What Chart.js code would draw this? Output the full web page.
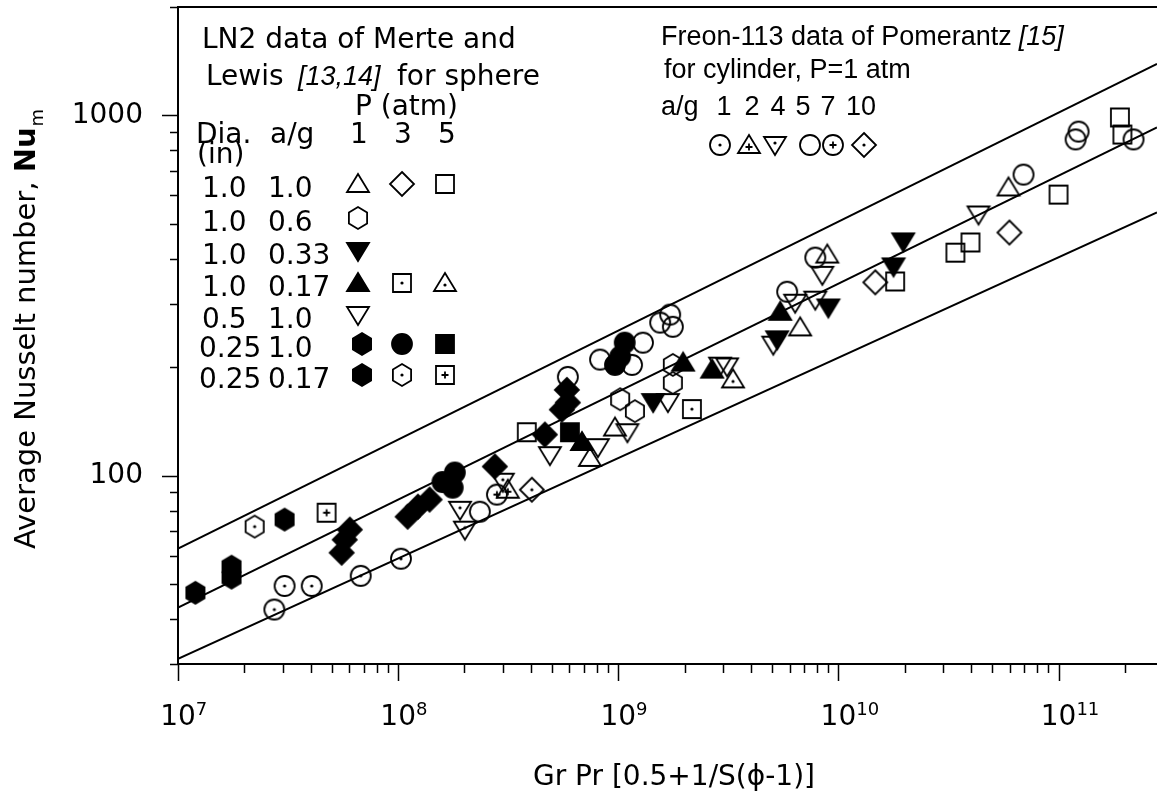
<!DOCTYPE html>
<html>
<head>
<meta charset="utf-8">
<script src="https://cdn.jsdelivr.net/npm/chart.js@4.4.1/dist/chart.umd.min.js"></script>
<style>
  html, body { margin: 0; padding: 0; background: #fff; }
  #wrap { width: 1157px; height: 794px; position: relative; }
</style>
</head>
<body>
<div id="wrap"><canvas id="nuChart"></canvas></div>
<script>
// axis ranges and labelled ticks
const xMin = 1e7, xMax = 2.8e11;
const yMin = 30, yMax = 2000;
const xTickLabels = [1e7, 1e8, 1e9, 1e10, 1e11];
const yTickLabels = [100, 1000];

// correlation lines, Nu at the left and right ends of the x range
const lineX = [1e7, 2.8e11];
const upperLineY = [62.7, 1390];
const middleLineY = [43.0, 926];
const lowerLineY = [31.0, 538];

// LN2 data, sphere (Merte and Lewis)
const triOpenX = [7.43e8, 9.66e8, 6.7e9, 8.9e9, 5.92e10];          // 1.0 in, a/g 1.0, P=1
const triOpenY = [112, 136, 258, 411, 631];
const diamondOpenX = [1.47e10, 5.98e10];                           // 1.0 in, a/g 1.0, P=3
const diamondOpenY = [344, 473];
const squareOpenX = [3.84e8, 1.81e10, 3.4e10, 3.98e10, 1.0e11, 1.9e11, 1.95e11]; // P=5
const squareOpenY = [132, 346, 416, 444, 603, 987, 885];
const hexOpenX = [1.02e9, 1.19e9, 1.77e9, 1.77e9];                 // a/g 0.6
const hexOpenY = [163, 151, 203, 181];
const triDownFilledX = [1.44e9, 5.27e9, 9.0e9, 1.78e10, 1.97e10];  // a/g 0.33
const triDownFilledY = [160, 239, 293, 381, 447];
const triFilledX = [6.84e8, 1.97e9, 2.67e9, 5.44e9];               // a/g 0.17, P=1
const triFilledY = [124, 206, 197, 285];
const squareDotX = [2.16e9];                                       // a/g 0.17, P=3
const squareDotY = [153];
const triDotX = [3.32e9];                                          // a/g 0.17, P=5
const triDotY = [185];
const triDownOpenX = [4.89e8, 8.08e8, 1.1e9, 1.68e9, 2.9e9, 3.12e9, 5.06e9, 6.36e9, 7.85e9, 8.45e9, 4.33e10]; // 0.5 in
const triDownOpenY = [114, 120, 132, 160, 202, 201, 231, 302, 308, 361, 531];
const hexFilledX = [1.2e7, 1.75e7, 1.75e7, 3.05e7];                // 0.25 in, P=1
const hexFilledY = [47.3, 55.9, 52.1, 75.5];
const circleFilledX = [1.59e8, 1.81e8, 1.77e8, 9.66e8, 1.02e9, 1.07e9]; // 0.25 in, P=3
const circleFilledY = [96, 102, 92.6, 203, 214, 234];
const squareFilledX = [6.03e8];                                    // 0.25 in, P=5
const squareFilledY = [132];
const hexDotX = [2.23e7];                                          // 0.25 in, a/g 0.17, P=3
const hexDotY = [72.2];
const squarePlusX = [4.73e7];                                      // 0.25 in, a/g 0.17, P=5
const squarePlusY = [78.9];
const diamondFilledX = [5.54e7, 5.72e7, 6.03e7, 1.105e8, 1.23e8, 1.39e8, 2.75e8, 4.64e8, 5.54e8, 5.9e8, 5.84e8];
const diamondFilledY = [61.1, 66.4, 70.8, 76.9, 82, 85.8, 106, 130, 152.5, 159.5, 173];

// Freon-113 data, cylinder (Pomerantz)
const circleDotX = [2.74e7, 3.05e7, 4.05e7, 6.76e7, 1.03e8];       // a/g 1
const circleDotY = [42.5, 49.4, 49.4, 52.7, 58.8];
const triPlusX = [3.15e8];                                         // a/g 2
const triPlusY = [91.4];
const triDownDotX = [1.91e8, 2.01e8, 2.99e8];                      // a/g 4
const triDownDotY = [80.4, 70.8, 96.2];
const circleOpenX = [2.35e8, 5.9e8, 8.26e8, 1.155e9, 1.295e9, 1.55e9, 1.72e9, 1.77e9, 5.85e9, 7.85e9, 6.93e10, 1.195e11, 1.233e11, 2.19e11]; // a/g 5
const circleOpenY = [79.4, 188, 210, 203, 234, 266, 280, 259, 324, 403, 685, 858, 902, 858];
const circlePlusX = [2.81e8];                                      // a/g 7
const circlePlusY = [88.6];
const diamondDotX = [4.05e8];                                      // a/g 10
const diamondDotY = [91.4];

const FONT = '"DejaVu Sans"';

function makeMarker(shape, filled, inner) {
    const c = document.createElement('canvas');
    c.width = 32; c.height = 32;
    const g = c.getContext('2d');
    g.translate(16, 16);
    g.lineWidth = 1.8;
    g.strokeStyle = '#000';
    g.fillStyle = '#000';
    g.beginPath();
    if (shape === 'circle') {
        g.arc(0, 0, 10, 0, Math.PI * 2);
    } else if (shape === 'square') {
        g.rect(-9, -9, 18, 18);
    } else if (shape === 'diamond') {
        g.moveTo(0, -12); g.lineTo(12, 0); g.lineTo(0, 12); g.lineTo(-12, 0); g.closePath();
    } else if (shape === 'triUp') {
        g.moveTo(0, -10); g.lineTo(11, 8); g.lineTo(-11, 8); g.closePath();
    } else if (shape === 'triDown') {
        g.moveTo(0, 10); g.lineTo(11, -8); g.lineTo(-11, -8); g.closePath();
    } else if (shape === 'hex') {
        for (let i = 0; i < 6; i++) {
            const a = -Math.PI / 2 + i * Math.PI / 3;
            const px = 10.5 * Math.cos(a), py = 11 * Math.sin(a);
            if (i === 0) g.moveTo(px, py); else g.lineTo(px, py);
        }
        g.closePath();
    }
    if (filled) g.fill();
    g.stroke();
    const cy = shape === 'triUp' ? 2 : shape === 'triDown' ? -2 : 0;
    if (inner === 'dot') {
        g.beginPath(); g.arc(0, cy, 1.6, 0, Math.PI * 2); g.fill();
    } else if (inner === 'plus') {
        g.beginPath();
        g.moveTo(-3.5, cy); g.lineTo(3.5, cy);
        g.moveTo(0, cy - 3.5); g.lineTo(0, cy + 3.5);
        g.lineWidth = 1.8; g.stroke();
    }
    return c;
}

const mk = {
    triOpen: makeMarker('triUp', false),
    diamondOpen: makeMarker('diamond', false),
    squareOpen: makeMarker('square', false),
    hexOpen: makeMarker('hex', false),
    triDownFilled: makeMarker('triDown', true),
    triFilled: makeMarker('triUp', true),
    squareDot: makeMarker('square', false, 'dot'),
    triDot: makeMarker('triUp', false, 'dot'),
    triDownOpen: makeMarker('triDown', false),
    hexFilled: makeMarker('hex', true),
    circleFilled: makeMarker('circle', true),
    squareFilled: makeMarker('square', true),
    hexDot: makeMarker('hex', false, 'dot'),
    squarePlus: makeMarker('square', false, 'plus'),
    diamondFilled: makeMarker('diamond', true),
    circleDot: makeMarker('circle', false, 'dot'),
    triPlus: makeMarker('triUp', false, 'plus'),
    triDownDot: makeMarker('triDown', false, 'dot'),
    circleOpen: makeMarker('circle', false),
    circlePlus: makeMarker('circle', false, 'plus'),
    diamondDot: makeMarker('diamond', false, 'dot')
};

function pts(xs, ys) {
    return xs.map((v, i) => ({ x: v, y: ys[i] }));
}

function markerSet(xs, ys, style) {
    return { data: pts(xs, ys), pointStyle: style, pointRadius: 10, showLine: false };
}

function lineSet(ys) {
    return {
        data: pts(lineX, ys), showLine: true, pointRadius: 0,
        borderColor: '#000', borderWidth: 2, fill: false
    };
}

const datasets = [
    markerSet(circleFilledX, circleFilledY, mk.circleFilled),
    markerSet(diamondFilledX, diamondFilledY, mk.diamondFilled),
    markerSet(hexFilledX, hexFilledY, mk.hexFilled),
    markerSet(squareFilledX, squareFilledY, mk.squareFilled),
    markerSet(triFilledX, triFilledY, mk.triFilled),
    markerSet(triDownFilledX, triDownFilledY, mk.triDownFilled),
    markerSet(triOpenX, triOpenY, mk.triOpen),
    markerSet(diamondOpenX, diamondOpenY, mk.diamondOpen),
    markerSet(squareOpenX, squareOpenY, mk.squareOpen),
    markerSet(hexOpenX, hexOpenY, mk.hexOpen),
    markerSet(squareDotX, squareDotY, mk.squareDot),
    markerSet(triDotX, triDotY, mk.triDot),
    markerSet(triDownOpenX, triDownOpenY, mk.triDownOpen),
    markerSet(hexDotX, hexDotY, mk.hexDot),
    markerSet(squarePlusX, squarePlusY, mk.squarePlus),
    markerSet(circleDotX, circleDotY, mk.circleDot),
    markerSet(triPlusX, triPlusY, mk.triPlus),
    markerSet(triDownDotX, triDownDotY, mk.triDownDot),
    markerSet(circleOpenX, circleOpenY, mk.circleOpen),
    markerSet(circlePlusX, circlePlusY, mk.circlePlus),
    markerSet(diamondDotX, diamondDotY, mk.diamondDot),
    lineSet(upperLineY),
    lineSet(middleLineY),
    lineSet(lowerLineY)
];

// tick marks, x tick labels with exponents, axis titles and the two keys
const decor = {
    id: 'decor',
    afterDraw(chart) {
        const { ctx, chartArea: a, scales: { x, y } } = chart;
        ctx.save();
        ctx.strokeStyle = '#000';
        ctx.fillStyle = '#000';

        // top frame line
        ctx.lineWidth = 2;
        ctx.beginPath();
        ctx.moveTo(a.left, a.top); ctx.lineTo(a.right, a.top);
        ctx.stroke();

        // y ticks (outward)
        ctx.lineWidth = 1.5;
        ctx.beginPath();
        for (let d = 1; d <= 3; d++) {
            for (let k = 1; k <= 9; k++) {
                const v = k * Math.pow(10, d);
                if (v < yMin - 1e-9 || v > yMax + 1e-9) continue;
                const py = Math.round(y.getPixelForValue(v)) + 0.5;
                const len = k === 1 ? 16 : 8;
                ctx.moveTo(a.left - len, py); ctx.lineTo(a.left, py);
            }
        }
        // x ticks (outward)
        for (let d = 7; d <= 11; d++) {
            for (let k = 1; k <= 9; k++) {
                const v = k * Math.pow(10, d);
                if (v < xMin - 1 || v > xMax) continue;
                const px = Math.round(x.getPixelForValue(v)) + 0.5;
                const len = k === 1 ? 17 : 9;
                ctx.moveTo(px, a.bottom); ctx.lineTo(px, a.bottom + len);
            }
        }
        ctx.stroke();

        // x tick labels 10^n
        ctx.textBaseline = 'alphabetic';
        xTickLabels.forEach(v => {
            const px = x.getPixelForValue(v);
            const e = String(Math.round(Math.log10(v)));
            ctx.font = '28px ' + FONT;
            const w = ctx.measureText('10').width;
            ctx.textAlign = 'center';
            ctx.fillText('10', px, 725);
            ctx.font = '18px ' + FONT;
            ctx.textAlign = 'left';
            ctx.fillText(e, px + w / 2, 715);
        });

        // x axis title
        ctx.font = '28px ' + FONT;
        ctx.textAlign = 'center';
        ctx.fillText('Gr Pr [0.5+1/S(\u03D5-1)]', 674, 785);

        // y axis title, rotated, with subscript m
        const t1 = 'Average Nusselt number, ';
        ctx.font = '29px ' + FONT;
        const w1 = ctx.measureText(t1).width;
        ctx.font = 'bold 29px ' + FONT;
        const w2 = ctx.measureText('Nu').width;
        ctx.font = '18px ' + FONT;
        const w3 = ctx.measureText('m').width;
        const total = w1 + w2 + w3 + 1;
        ctx.save();
        ctx.translate(35, 329 + total / 2);
        ctx.rotate(-Math.PI / 2);
        ctx.textAlign = 'left';
        ctx.font = '29px ' + FONT;
        ctx.fillText(t1, 0, 0);
        ctx.font = 'bold 29px ' + FONT;
        ctx.fillText('Nu', w1, 0);
        ctx.font = '18px ' + FONT;
        ctx.fillText('m', w1 + w2 + 1, 8);
        ctx.restore();

        // left key (LN2, sphere)
        ctx.textAlign = 'left';
        ctx.font = '28px ' + FONT;
        ctx.fillText('LN2 data of Merte and', 202, 48);
        ctx.fillText('Lewis', 206, 85);
        ctx.font = 'italic 27px "Liberation Sans"';
        ctx.fillText('[13,14]', 298, 85);
        ctx.font = '28px ' + FONT;
        ctx.fillText('for sphere', 397, 85);
        ctx.fillText('P (atm)', 355, 115);
        ctx.fillText('Dia.', 196, 143);
        ctx.fillText('a/g', 270, 143);
        ctx.fillText('(in)', 197, 163);
        ctx.textAlign = 'center';
        ctx.fillText('1', 359, 143);
        ctx.fillText('3', 403, 143);
        ctx.fillText('5', 447, 143);

        const rows = [
            ['1.0', '1.0', [mk.triOpen, mk.diamondOpen, mk.squareOpen]],
            ['1.0', '0.6', [mk.hexOpen]],
            ['1.0', '0.33', [mk.triDownFilled]],
            ['1.0', '0.17', [mk.triFilled, mk.squareDot, mk.triDot]],
            ['0.5', '1.0', [mk.triDownOpen]],
            ['0.25', '1.0', [mk.hexFilled, mk.circleFilled, mk.squareFilled]],
            ['0.25', '0.17', [mk.hexFilled, mk.hexDot, mk.squarePlus]]
        ];
        const rowBase = [197, 231, 264, 296, 328, 357, 388];
        const symX = [358, 402, 445];
        ctx.textAlign = 'left';
        rows.forEach((r, i) => {
            ctx.fillText(r[0], r[0].length > 3 ? 199 : 202, rowBase[i]);
            ctx.fillText(r[1], 268, rowBase[i]);
            r[2].forEach((m, j) => {
                const sx = symX[j] + (i >= 5 && j === 0 ? 4 : 0);
                ctx.drawImage(m, sx - m.width / 2, rowBase[i] - 13 - m.height / 2);
            });
        });

        // right key (Freon-113, cylinder)
        ctx.font = '27px "Liberation Sans"';
        ctx.textAlign = 'left';
        const f1 = 'Freon-113 data of Pomerantz';
        ctx.fillText(f1, 661, 45);
        const fEnd = 661 + ctx.measureText(f1).width;
        ctx.font = 'italic 27px "Liberation Sans"';
        ctx.fillText('[15]', Math.max(1013, fEnd + 7), 45);
        ctx.font = '27px "Liberation Sans"';
        ctx.fillText('for cylinder, P=1 atm', 664, 78);
        ctx.fillText('a/g', 661, 115);
        ctx.textAlign = 'center';
        const agLabels = ['1', '2', '4', '5', '7', '10'];
        const agX = [724, 752, 778, 803, 828, 861];
        agLabels.forEach((s, i) => ctx.fillText(s, agX[i], 115));
        const freonSyms = [mk.circleDot, mk.triPlus, mk.triDownDot, mk.circleOpen, mk.circlePlus, mk.diamondDot];
        const freonSymX = [720, 749, 775, 810, 833, 864];
        freonSyms.forEach((m, i) => ctx.drawImage(m, freonSymX[i] - m.width / 2, 145 - m.height / 2));

        ctx.restore();
    }
};

const ctx = document.getElementById('nuChart').getContext('2d');
new Chart(ctx, {
    type: 'scatter',
    data: { datasets: datasets },
    options: {
        responsive: true,
        maintainAspectRatio: false,
        animation: false,
        events: [],
        layout: { autoPadding: false, padding: { top: 7, right: 0, left: 0, bottom: 0 } },
        plugins: {
            legend: { display: false },
            tooltip: { enabled: false }
        },
        scales: {
            x: {
                type: 'logarithmic',
                min: xMin,
                max: xMax,
                grid: { display: false, drawTicks: false },
                border: { display: true, color: '#000', width: 2 },
                ticks: { display: false },
                afterFit: s => { s.height = 130; s.paddingLeft = 0; s.paddingRight = 0; }
            },
            y: {
                type: 'logarithmic',
                min: yMin,
                max: yMax,
                grid: { display: false, drawTicks: false },
                border: { display: true, color: '#000', width: 2 },
                afterBuildTicks: s => { s.ticks = yTickLabels.map(v => ({ value: v })); },
                ticks: {
                    autoSkip: false,
                    padding: 35,
                    color: '#000',
                    font: { family: 'DejaVu Sans', size: 28 },
                    callback: v => String(v)
                },
                afterFit: s => { s.width = 178; s.paddingTop = 0; s.paddingBottom = 0; }
            }
        }
    },
    plugins: [decor]
});
</script>
</body>
</html>
